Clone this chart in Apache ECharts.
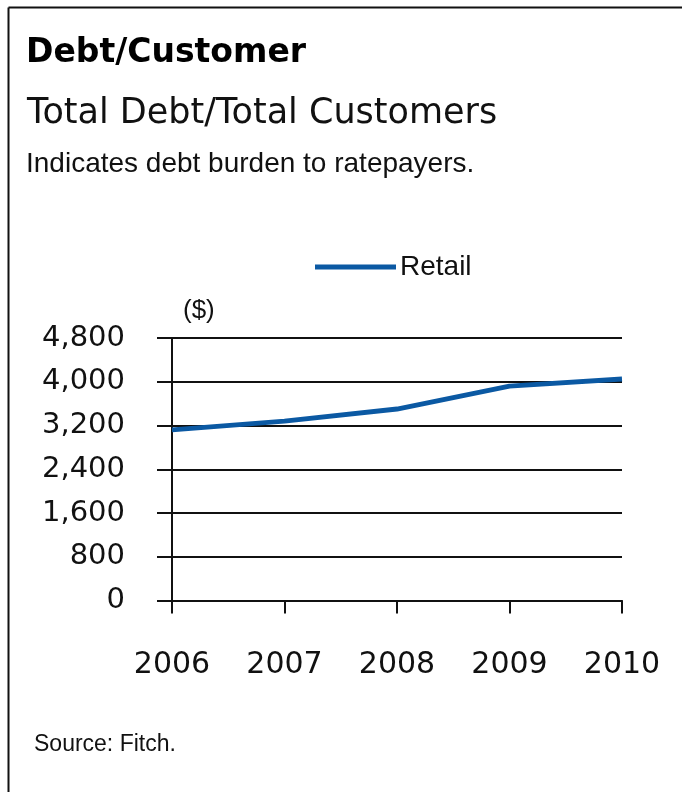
<!DOCTYPE html>
<html>
<head>
<meta charset="utf-8">
<script src="https://cdn.jsdelivr.net/npm/echarts@6/dist/echarts.min.js"></script>
<style>
html,body{margin:0;padding:0;background:#fff;}
#chart{width:682px;height:792px;}
</style>
</head>
<body>
<div id="chart"></div>
<script>
var categories = ['2006', '2007', '2008', '2009', '2010'];
var retailValues = [3120, 3280, 3500, 3920, 4050];
var yTicks = [0, 800, 1600, 2400, 3200, 4000, 4800];
var seriesName = 'Retail';

var chart = echarts.init(document.getElementById('chart'), null, {renderer: 'canvas'});
var option = {
  animation: false,
  backgroundColor: '#ffffff',
  graphic: [
    {type: 'line', shape: {x1: 8.5, y1: 7.5, x2: 682, y2: 7.5}, style: {stroke: '#111', lineWidth: 2}},
    {type: 'line', shape: {x1: 8.5, y1: 7.5, x2: 8.5, y2: 792}, style: {stroke: '#111', lineWidth: 2}},
    {type: 'text', left: 26, top: 37, style: {text: 'Debt/Customer', font: 'bold 33px "DejaVu Sans"', fill: '#000'}},
    {type: 'text', left: 27, top: 96, style: {text: 'Total Debt/Total Customers', font: '35px "DejaVu Sans"', fill: '#111'}},
    {type: 'text', left: 26, top: 150, style: {text: 'Indicates debt burden to ratepayers.', font: '28px "Liberation Sans"', fill: '#111'}},
    {type: 'text', left: 183, top: 298, style: {text: '($)', font: '26px "Liberation Sans"', fill: '#111'}},
    {type: 'text', left: 34, top: 733, style: {text: 'Source: Fitch.', font: '23px "Liberation Sans"', fill: '#111'}}
  ],
  legend: {
    data: [seriesName],
    left: 315,
    top: 253,
    padding: 0,
    icon: 'rect',
    itemWidth: 81,
    itemHeight: 5,
    itemGap: 10,
    textStyle: {fontFamily: 'Liberation Sans', fontSize: 28, color: '#111', padding: [0, 0, 0, -1]}
  },
  grid: {left: 172, right: 60, top: 338, bottom: 191.5, containLabel: false},
  xAxis: {
    type: 'category',
    data: categories,
    boundaryGap: false,
    axisLine: {lineStyle: {color: '#111', width: 2}},
    axisTick: {show: true, length: 13, lineStyle: {color: '#111', width: 2}},
    axisLabel: {margin: 50, fontFamily: 'DejaVu Sans', fontSize: 30, color: '#111'},
    splitLine: {show: false}
  },
  yAxis: {
    type: 'value',
    min: yTicks[0],
    max: yTicks[yTicks.length - 1],
    interval: yTicks[1] - yTicks[0],
    axisLine: {show: true, lineStyle: {color: '#111', width: 2}},
    axisTick: {show: true, length: 15, lineStyle: {color: '#111', width: 2}},
    axisLabel: {
      margin: 47,
      fontFamily: 'DejaVu Sans',
      fontSize: 29,
      color: '#111',
      formatter: function (v) { return v.toLocaleString('en-US'); }
    },
    splitLine: {show: true, lineStyle: {color: '#111', width: 2}}
  },
  series: [{
    name: seriesName,
    type: 'line',
    data: retailValues,
    showSymbol: false,
    symbol: 'none',
    lineStyle: {color: '#0b59a3', width: 5},
    itemStyle: {color: '#0b59a3'},
    z: 3
  }]
};
chart.setOption(option);
</script>
</body>
</html>
